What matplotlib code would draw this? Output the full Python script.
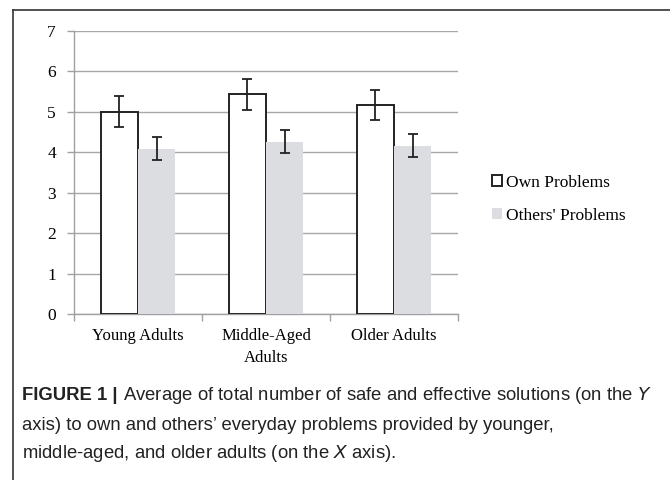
import numpy as np
import matplotlib
matplotlib.use("Agg")
import matplotlib.pyplot as plt
from matplotlib.patches import Patch
from matplotlib.lines import Line2D

# Data
groups = ["Young Adults", "Middle-Aged\nAdults", "Older Adults"]
own_mean = [5.00, 5.43, 5.17]
own_err = [0.38, 0.38, 0.38]
others_mean = [4.09, 4.26, 4.16]
others_err = [0.28, 0.28, 0.28]
series_names = ["Own Problems", "Others' Problems"]

serif = ["Liberation Serif", "DejaVu Serif"]
sans = ["Liberation Sans", "DejaVu Sans"]

fig = plt.figure(figsize=(6.7, 4.8), dpi=100)
ax = fig.add_axes([74 / 670, 1 - 314 / 480, (458 - 74) / 670, (314 - 31) / 480])

x = np.arange(len(groups))
w = 0.29
ax.bar(x - w / 2, own_mean, w, color="white", edgecolor="#222222", linewidth=1.4, zorder=3)
ax.bar(x + w / 2, others_mean, w, color="#dcdde0", edgecolor="none", zorder=3)
ax.errorbar(x - w / 2, own_mean, yerr=own_err, fmt="none", ecolor="#222222",
            elinewidth=1.3, capsize=3.4, capthick=1.3, zorder=4)
ax.errorbar(x + w / 2, others_mean, yerr=others_err, fmt="none", ecolor="#222222",
            elinewidth=1.3, capsize=3.4, capthick=1.3, zorder=4)

ax.set_xlim(-0.5, 2.5)
ax.set_ylim(0, 7)
ax.set_yticks(range(0, 8))
ax.yaxis.grid(True, color="#a8a8a8", linewidth=1.0, zorder=0)
ax.set_axisbelow(True)

# category separators as tick marks on the x axis
ax.set_xticks([-0.5, 0.5, 1.5, 2.5])
ax.set_xticklabels([])
ax.set_xticks(x, minor=True)
ax.set_xticklabels(groups, minor=True, fontfamily=serif, fontsize=12, linespacing=1.5)
ax.tick_params(axis="x", which="minor", length=0, pad=10)
ax.tick_params(axis="x", which="major", length=5, color="#a0a0a0", width=1)
ax.tick_params(axis="y", length=5, color="#a0a0a0", width=1, pad=8)
for lab in ax.get_yticklabels():
    lab.set_fontfamily(serif)
    lab.set_fontsize(12.5)

for side in ["top", "right"]:
    ax.spines[side].set_visible(False)
for side in ["left", "bottom"]:
    ax.spines[side].set_color("#a0a0a0")
    ax.spines[side].set_linewidth(1.0)

handles = [Patch(facecolor="white", edgecolor="#222222", linewidth=1.4),
           Patch(facecolor="#dcdde0", edgecolor="none")]
fig.legend(handles, series_names, loc="upper left", bbox_to_anchor=(476 / 670, 1 - 159 / 480),
           frameon=False, handlelength=0.6, handleheight=0.6, handletextpad=0.2,
           labelspacing=1.0, prop={"family": serif, "size": 12.5})

# outer frame lines
fig.add_artist(Line2D([13 / 670, 13 / 670], [0, 1 - 10 / 480], color="#333333", linewidth=1.2))
fig.add_artist(Line2D([13 / 670, 1], [1 - 10 / 480, 1 - 10 / 480], color="#333333", linewidth=1.2))

# caption
cap_x = 22 / 670
cap_size = 13.3
t1 = fig.text(cap_x, 1 - 396 / 480, "FIGURE 1 | ", fontfamily=sans, fontsize=cap_size,
              fontweight="bold", color="#222222", va="center")
fig.canvas.draw()
bb = t1.get_window_extent()
fig.text(bb.x1 / 670, 1 - 396 / 480,
         "Average of total number of safe and effective solutions (on the $\\it{Y}$",
         fontfamily=sans, fontsize=cap_size, color="#222222", va="center")
fig.text(cap_x, 1 - 425 / 480,
         "axis) to own and others\u2019 everyday problems provided by younger,",
         fontfamily=sans, fontsize=cap_size, color="#222222", va="center")
fig.text(cap_x, 1 - 453 / 480,
         "middle-aged, and older adults (on the $\\it{X}$ axis).",
         fontfamily=sans, fontsize=cap_size, color="#222222", va="center")

fig.savefig("out.png", dpi=100)
